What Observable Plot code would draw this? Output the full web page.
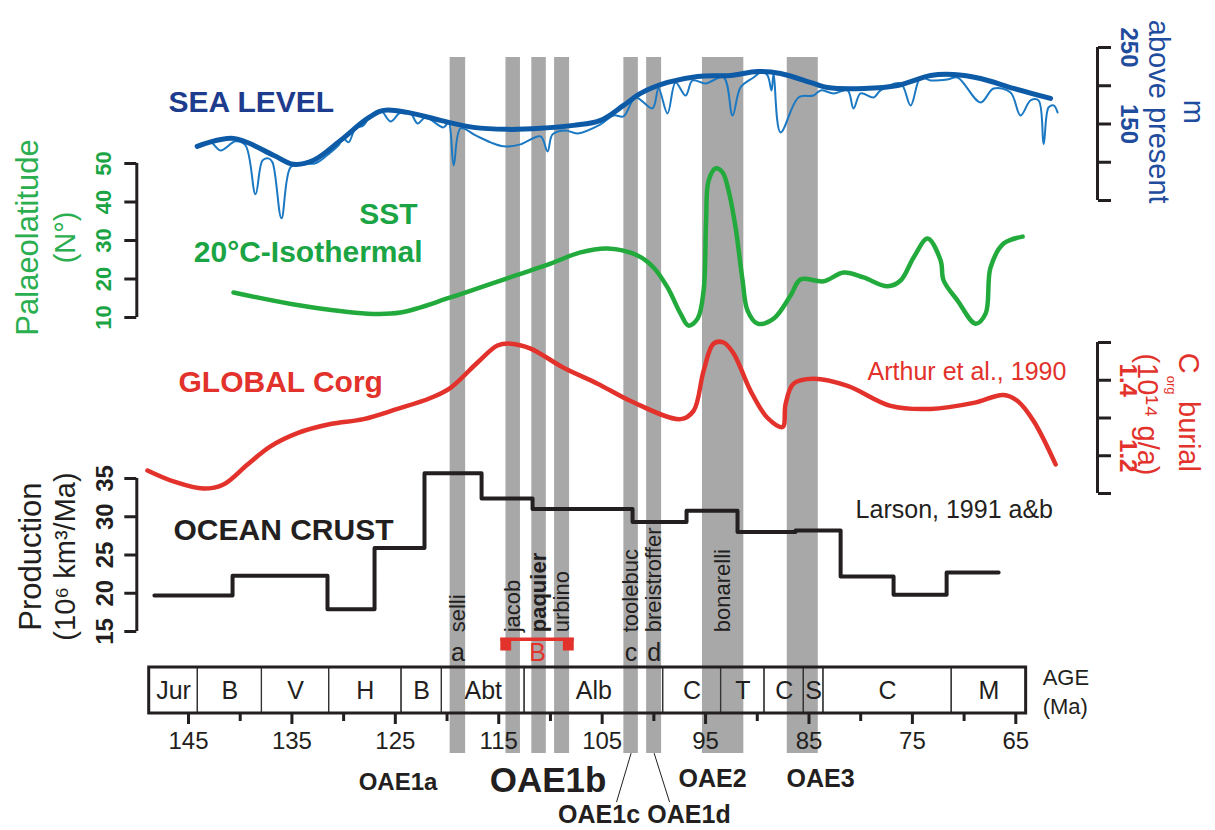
<!DOCTYPE html>
<html><head><meta charset="utf-8">
<script src="https://cdn.jsdelivr.net/npm/d3@7"></script>
<script src="https://cdn.jsdelivr.net/npm/@observablehq/plot@0.6"></script>
<style>
body{margin:0;background:#fff;}
#chart{position:relative;width:1215px;height:830px;overflow:hidden;background:#fff;}
#chart svg{position:absolute;left:0;top:0;}
</style></head><body><div id="chart"></div>
<script>
// ---------------- DATA ----------------
// Sea level (m above present), smoothed curve
const seaThickAge = [144.16,140.65,136.78,134.85,132.91,130.30,127.69,126.14,123.82,120.63,117.44,114.15,110.96,107.77,105.15,102.93,101.29,98.68,95.77,92.58,89.97,87.75,84.56,83.20,79.72,76.43,73.24,71.02,68.41,65.21,61.64];
const seaThickM   = [120.8,131.2,109.1,97.3,102.5,128.6,157.3,167.8,165.2,154.7,145.6,143.0,144.3,148.2,154.7,174.3,190.0,204.3,212.2,213.5,218.7,216.1,203.0,197.8,196.5,200.4,213.5,214.8,209.5,196.5,183.4];
// Sea level, detailed curve with short-term falls
const seaThinAge = [144.13,142.87,141.91,140.45,139.49,138.52,137.84,137.26,136.88,136.01,135.14,134.17,132.72,131.27,130.49,130.01,129.53,128.85,128.08,127.40,126.43,125.46,124.50,123.53,122.85,122.08,120.34,119.85,119.36,118.69,117.24,115.79,114.54,112.89,110.96,110.28,109.80,108.54,107.38,105.15,103.90,102.93,101.77,100.13,99.55,98.68,97.90,96.93,96.26,95.00,93.26,92.39,91.62,90.36,89.49,89.00,88.62,88.42,87.75,86.01,84.56,83.88,82.62,81.27,80.69,80.01,78.75,78.08,76.14,75.17,74.21,73.24,71.60,70.63,68.41,67.15,65.51,64.54,63.57,62.80,62.31,61.83,61.34,60.96];
const seaThinM   = [120.8,126.0,115.5,127.3,122.1,58.1,102.5,105.1,99.9,26.8,93.3,98.6,98.6,112.9,122.1,131.2,126.0,144.3,148.2,161.2,167.8,153.4,165.1,163.8,150.8,158.6,145.6,152.1,96.0,144.3,135.1,126.0,120.8,123.4,133.8,114.2,136.4,141.6,137.7,149.5,161.2,159.9,184.7,170.4,196.5,163.8,204.3,187.3,206.9,203.0,210.8,161.2,197.8,210.8,218.7,213.4,193.9,216.1,139.0,184.7,187.3,193.9,190.0,193.9,170.4,190.0,184.7,193.9,203.0,174.3,210.8,206.9,208.2,210.8,178.2,196.5,191.3,161.2,180.8,180.8,123.4,171.7,174.3,165.1];
// SST 20°C isotherm palaeolatitude (°N)
const sstAge = [140.65,134.17,127.69,124.50,119.66,114.82,109.99,107.09,104.48,101.58,100.03,98.68,97.42,96.65,95.77,95.19,94.95,94.71,94.03,93.36,92.78,92.10,91.42,90.94,89.97,88.42,86.78,85.81,83.59,81.65,79.72,77.40,76.14,74.88,73.53,72.27,71.98,70.63,68.89,67.92,67.44,66.18,64.34];
const sstLat = [16.5,13.1,11.0,11.3,15.2,19.6,24.0,26.9,27.9,26.1,23.0,17.8,11.0,7.9,9.7,17.0,35.0,45.5,48.7,47.7,43.0,33.4,19.6,11.8,8.4,9.7,15.7,19.9,19.4,21.7,20.4,18.1,19.6,25.6,30.5,24.8,19.6,14.4,8.4,11.0,23.0,29.2,31.0];
// Global Corg burial (10^14 g/a)
const corgAge = [148.97,146.45,143.55,141.62,139.29,137.07,134.46,131.27,128.08,124.79,121.60,119.66,117.05,115.12,113.86,111.92,108.73,105.44,102.25,97.42,96.16,95.19,94.23,93.26,92.29,90.65,89.00,87.55,87.26,86.49,84.56,81.27,77.11,73.24,69.08,66.18,64.83,63.28,61.15];
const corgVal = [1.161,1.132,1.113,1.124,1.177,1.225,1.260,1.284,1.297,1.324,1.353,1.380,1.447,1.492,1.497,1.484,1.433,1.391,1.345,1.297,1.319,1.425,1.497,1.500,1.471,1.372,1.300,1.276,1.337,1.391,1.404,1.385,1.332,1.324,1.340,1.361,1.345,1.292,1.177];
// Ocean crust production (10^6 km^3/Ma), step starts
const crustAge  = [148.3,140.74,131.56,127.01,122.18,116.66,111.73,102.06,96.84,91.91,86.30,81.94,76.82,71.69,66.66];
const crustProd = [19.7,22.3,17.9,25.9,35.7,32.4,31.0,29.3,30.8,28.0,28.2,22.2,19.8,22.7,22.7];
// OAE grey bands (Ma)
const bandStart = [119.7,114.3,111.8,109.6,102.9,100.7,95.3,87.1];
const bandEnd   = [118.2,112.9,110.4,108.15,101.5,99.25,91.3,84.1];
const bandName  = ["selli","jacob","paquier","urbino","toolebuc","breistroffer","bonarelli",""];
const bandLetter= ["a","","","","c","d","",""];
// OAE1b bracket (Ma)
const bracketAge = [114.8, 107.7];
// Stratigraphic stages
const stageName  = ["Jur","B","V","H","B","Abt","Alb","C","T","C","S","C","M"];
const stageBound = [148.8,144.1,137.9,131.4,124.4,120.5,112.5,99.1,93.5,89.3,85.5,83.6,71.2,64.0];
// OAE event names
const oaeName = ["OAE1a","OAE1b","OAE1c","OAE1d","OAE2","OAE3"];
const oaeAge  = [124.74,110.23,105.30,96.60,94.32,83.88];
// ticks
const ageTicksMajor = [145,135,125,115,105,95,85,75,65];
const ageTicksMinor = [140,130,120,110,100,90,80,70];
const seaTicks = [50,100,150,200,250], seaTickLabels = [150,250];
const latTicks = [10,20,30,40,50];
const corgTicks = [1.1,1.2,1.3,1.4,1.5], corgTickLabels = [1.2,1.4];
const prodTicks = [15,20,25,30,35];

// ---------------- LAYOUT ----------------
const W = 1215, H = 830;
const FONT = '"Liberation Sans", Arial, Helvetica, sans-serif';
const ageDomain = [150, 57.1];
const mL = 136.3, mR = 118;
const INK = "#231f20", BLUE = "#0d5aa6", BLUE2 = "#1b78c2", NAVY = "#1d3c8e", SEAT = "#1f4c9c";
const GREEN = "#22aa3c", GREENT = "#1aa444", RED = "#e2322b", GREY = "#a8a8a8";

const zip = (a, b, ka, kb) => a.map((v, i) => ({[ka]: v, [kb]: b[i]}));
const seaThick = zip(seaThickAge, seaThickM, "age", "m");
const seaThin = zip(seaThinAge, seaThinM, "age", "m");
const sst = zip(sstAge, sstLat, "age", "lat");
const corg = zip(corgAge, corgVal, "age", "v");
const crust = zip(crustAge, crustProd, "age", "p");
const bands = bandStart.map((s, i) => ({start: s, end: bandEnd[i], mid: (s + bandEnd[i]) / 2, name: bandName[i], letter: bandLetter[i]}));
const stages = stageName.map((n, i) => ({name: n, start: stageBound[i], end: stageBound[i + 1]}));
const oaes = oaeName.map((n, i) => ({name: n, age: oaeAge[i]}));

function panel(top, bottom, yDomain, marks) {
  return Plot.plot({
    width: W, height: H,
    marginLeft: mL, marginRight: mR, marginTop: top, marginBottom: H - bottom,
    x: {domain: ageDomain, axis: null, label: null},
    y: yDomain ? {domain: yDomain, axis: null, label: null} : undefined,
    style: {background: "transparent", fontFamily: FONT, overflow: "visible"},
    marks
  });
}
const T = (opts) => ({fontFamily: FONT, ...opts});
// rotated side text centred on its y value
const side = (opts) => T({textAnchor: "middle", lineAnchor: "middle", ...opts});

// grey OAE bands
const bandsPlot = panel(57, 753, null, [
  Plot.rect(bands, {x1: "start", x2: "end", fill: GREY})
]);

// stratigraphic box + age axis
const boxPlot = Plot.plot({
  width: W, height: H, marginLeft: mL, marginRight: mR, marginTop: 667, marginBottom: H - 713,
  x: {domain: ageDomain, label: null},
  style: {background: "transparent", fontFamily: FONT, fontSize: "24px", overflow: "visible", color: INK},
  marks: [
    Plot.rect(stages, {x1: "start", x2: "end", stroke: "#333", strokeWidth: 1.2, fill: "none"}),
    Plot.rect([stages], {x1: d => d[0].start, x2: d => d[d.length - 1].end, stroke: INK, strokeWidth: 3, fill: "none"}),
    Plot.text(stages, T({x: d => (d.start + d.end) / 2, text: "name", fontSize: 25, fill: INK})),
    Plot.axisX(ageTicksMajor, {anchor: "bottom", tickSize: 11, tickPadding: 7, strokeWidth: 3, color: INK, fontSize: 24}),
    Plot.axisX(ageTicksMinor, {anchor: "bottom", tickSize: 8, strokeWidth: 3, color: INK, tickFormat: () => ""}),
    Plot.text(["AGE\n(Ma)"], T({x: 62.4, text: d => d, textAnchor: "start", fontSize: 22, lineHeight: 1.3, fill: INK}))
  ]
});

// sea level
const seaPlot = panel(47, 200, [50, 250], [
  Plot.line(seaThin, {x: "age", y: "m", stroke: BLUE2, strokeWidth: 2, curve: "catmull-rom"}),
  Plot.line(seaThick, {x: "age", y: "m", stroke: BLUE, strokeWidth: 5, curve: "catmull-rom"}),
  Plot.ruleX([ageDomain[1]], {y1: seaTicks[0], y2: seaTicks[seaTicks.length - 1], stroke: INK, strokeWidth: 3}),
  Plot.axisY(seaTicks, {anchor: "right", tickSize: 13, strokeWidth: 3, color: INK, tickFormat: () => ""}),
  Plot.text(seaTickLabels, side({y: d => d, text: d => String(d), frameAnchor: "right", dx: 31, rotate: 90, fontSize: 24, fontWeight: "bold", fill: SEAT})),
  Plot.text(["m"], side({y: () => 166, text: d => d, frameAnchor: "right", dx: 96, rotate: 90, fontSize: 29, fill: SEAT})),
  Plot.text(["above present"], side({y: () => 166, text: d => d, frameAnchor: "right", dx: 61, rotate: 90, fontSize: 29, fill: SEAT})),
  Plot.text(["SEA LEVEL"], T({x: () => 146.93, y: () => 165.1, text: d => d, textAnchor: "start", lineAnchor: "bottom", fontSize: 30, fontWeight: "bold", fill: NAVY}))
]);

// SST
const sstPlot = panel(163, 317, [10, 50], [
  Plot.line(sst, {x: "age", y: "lat", stroke: GREEN, strokeWidth: 4.5, curve: "catmull-rom"}),
  Plot.ruleX([ageDomain[0]], {y1: latTicks[0], y2: latTicks[latTicks.length - 1], stroke: INK, strokeWidth: 3}),
  Plot.axisY(latTicks, {anchor: "left", tickSize: 12, strokeWidth: 3, color: INK, tickFormat: () => ""}),
  Plot.text(latTicks, side({y: d => d, text: d => String(d), frameAnchor: "left", dx: -33, rotate: -90, fontSize: 22, fontWeight: "bold", fill: GREENT})),
  Plot.text(["Palaeolatitude"], side({y: () => 30.8, text: d => d, frameAnchor: "left", dx: -109, rotate: -90, fontSize: 31, fill: "#2aae4f"})),
  Plot.text(["(N°)"], side({y: () => 30.8, text: d => d, frameAnchor: "left", dx: -71, rotate: -90, fontSize: 29, fill: "#2aae4f"})),
  Plot.text(["SST"], T({x: () => 122.85, y: () => 34.4, text: d => d, textAnchor: "end", lineAnchor: "bottom", fontSize: 30, fontWeight: "bold", fill: GREENT})),
  Plot.text(["20°C-Isothermal"], T({x: () => 122.37, y: () => 24.3, text: d => d, textAnchor: "end", lineAnchor: "bottom", fontSize: 30, fontWeight: "bold", fill: GREENT}))
]);

// Corg burial
const corgPlot = panel(342, 493, [1.1, 1.5], [
  Plot.line(corg, {x: "age", y: "v", stroke: RED, strokeWidth: 4.5, curve: "catmull-rom"}),
  Plot.ruleX([ageDomain[1]], {y1: corgTicks[0], y2: corgTicks[corgTicks.length - 1], stroke: INK, strokeWidth: 3}),
  Plot.axisY(corgTicks, {anchor: "right", tickSize: 13, strokeWidth: 3, color: INK, tickFormat: () => ""}),
  Plot.text(corgTickLabels, side({y: d => d, text: d => d.toFixed(1), frameAnchor: "right", dx: 30, rotate: 90, fontSize: 24, fontWeight: "bold", fill: RED})),
  Plot.text(["C"], T({y: () => 1.473, text: d => d, frameAnchor: "right", dx: 91, rotate: 90, textAnchor: "start", fontSize: 29, fill: RED})),
  Plot.text(["org"], T({y: () => 1.412, text: d => d, frameAnchor: "right", dx: 74, rotate: 90, textAnchor: "start", fontSize: 13, fill: RED})),
  Plot.text(["burial"], T({y: () => 1.345, text: d => d, frameAnchor: "right", dx: 91, rotate: 90, textAnchor: "start", fontSize: 29, fill: RED})),
  Plot.text(["(10¹⁴ g/a)"], T({y: () => 1.471, text: d => d, frameAnchor: "right", dx: 50, rotate: 90, textAnchor: "start", fontSize: 29, fill: RED})),
  Plot.text(["GLOBAL Corg"], T({x: () => 145.97, y: () => 1.369, text: d => d, textAnchor: "start", lineAnchor: "bottom", fontSize: 30, fontWeight: "bold", fill: RED})),
  Plot.text(["Arthur et al., 1990"], T({x: () => 79.33, y: () => 1.401, text: d => d, textAnchor: "start", lineAnchor: "bottom", fontSize: 25, fill: RED}))
]);

// Ocean crust + band annotations
const named = bands.filter(d => d.name && d.name !== "paquier");
const crustPlot = panel(478, 631, [15, 35], [
  Plot.line(crust, {x: "age", y: "p", stroke: INK, strokeWidth: 4, curve: "step-after"}),
  Plot.ruleX([ageDomain[0]], {y1: prodTicks[0], y2: prodTicks[prodTicks.length - 1], stroke: INK, strokeWidth: 3}),
  Plot.axisY(prodTicks, {anchor: "left", tickSize: 12, strokeWidth: 3, color: INK, tickFormat: () => ""}),
  Plot.text(prodTicks, side({y: d => d, text: d => String(d), frameAnchor: "left", dx: -31, rotate: -90, fontSize: 24, fontWeight: "bold", fill: INK})),
  Plot.text(["Production"], side({y: () => 24.8, text: d => d, frameAnchor: "left", dx: -106, rotate: -90, fontSize: 31, fill: INK})),
  Plot.text(["(10⁶ km³/Ma)"], side({y: () => 24.8, text: d => d, frameAnchor: "left", dx: -71, rotate: -90, fontSize: 29, fill: INK})),
  Plot.text(["OCEAN CRUST"], T({x: () => 146.45, y: () => 26.9, text: d => d, textAnchor: "start", lineAnchor: "bottom", fontSize: 30, fontWeight: "bold", fill: INK})),
  Plot.text(["Larson, 1991 a&b"], T({x: () => 80.49, y: () => 29.9, text: d => d, textAnchor: "start", lineAnchor: "bottom", fontSize: 25, fill: INK})),
  // band names
  Plot.text(named, T({x: "mid", y: () => 14.9, text: "name", rotate: -90, textAnchor: "start", fontSize: 22, fill: INK})),
  Plot.text(bands.filter(d => d.name === "paquier"), T({x: "mid", y: () => 14.9, text: "name", rotate: -90, textAnchor: "start", fontSize: 22, fontWeight: "bold", fill: INK})),
  Plot.text(bands.filter(d => d.letter), T({x: "mid", y: () => 11.1, text: "letter", lineAnchor: "bottom", fontSize: 25, fill: INK})),
  // OAE1b bracket
  Plot.ruleY([14.0], {x1: bracketAge[0], x2: bracketAge[1], stroke: RED, strokeWidth: 3.5}),
  Plot.rect(bracketAge, {x1: d => d, x2: d => d + (d === bracketAge[0] ? -1.05 : 1.05), y1: 14.1, y2: 12.45, fill: RED}),
  Plot.text(["B"], T({x: () => (bracketAge[0] + bracketAge[1]) / 2, y: () => 11.1, text: d => d, lineAnchor: "bottom", fontSize: 25, fill: RED})),
  // OAE names & leaders
  Plot.link(bands.filter(d => d.letter === "c" || d.letter === "d"), {
    x1: "mid", y1: () => -0.9,
    x2: d => d.letter === "c" ? 103.61 : 98.48, y2: () => -7.3, stroke: INK, strokeWidth: 1
  }),
  Plot.text(oaes.filter(d => d.name === "OAE1a"), T({x: "age", y: () => -5.73, text: "name", lineAnchor: "bottom", fontSize: 24, fontWeight: "bold", fill: INK})),
  Plot.text(oaes.filter(d => d.name === "OAE1b"), T({x: "age", y: () => -6.0, text: "name", lineAnchor: "bottom", fontSize: 35, fontWeight: "bold", fill: INK})),
  Plot.text(oaes.filter(d => d.name === "OAE2" || d.name === "OAE3"), T({x: "age", y: () => -5.34, text: "name", lineAnchor: "bottom", fontSize: 25, fontWeight: "bold", fill: INK})),
  Plot.text(oaes.filter(d => d.name === "OAE1c" || d.name === "OAE1d"), T({x: "age", y: () => -10.0, text: "name", lineAnchor: "bottom", fontSize: 25, fontWeight: "bold", fill: INK}))
]);

const el = document.getElementById("chart");
[bandsPlot, boxPlot, seaPlot, sstPlot, corgPlot, crustPlot].forEach(p => el.appendChild(p));
</script>
</body></html>
